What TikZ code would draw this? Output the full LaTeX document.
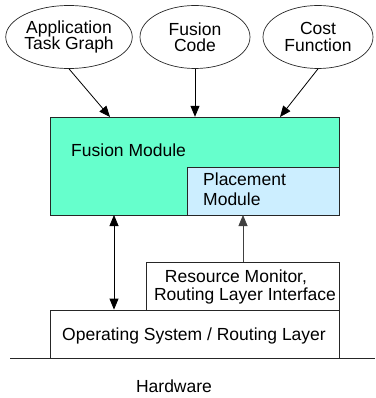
\documentclass[tikz,border=0pt]{standalone}
\usepackage{fontspec}
\setmainfont{Liberation Sans}
\usetikzlibrary{shapes.geometric,arrows.meta}
\definecolor{fusiongreen}{RGB}{102,255,204}
\definecolor{placeblue}{RGB}{204,238,255}
\tikzset{
  every node/.style={font=\fontsize{17.5}{16.5}\selectfont},
  oval/.style={draw=black!85, ellipse, minimum width=110pt, minimum height=63pt, inner sep=0pt, align=center, line width=0.7pt},
  box/.style={draw=black!85, line width=0.8pt},
  arr/.style={-{Triangle[length=11pt,width=9pt]}, line width=0.8pt},
  txt/.style={inner sep=0pt, anchor=base west},
}
\begin{document}
\begin{tikzpicture}[x=1pt,y=-1pt]
\useasboundingbox (0,0) rectangle (375,398);
% ellipses
\node[oval] (e1) at (69,37) {Application\\Task Graph};
\node[oval] (e2) at (195,37) {Fusion\\Code};
\node[oval] (e3) at (318,37) {Cost\\Function};
% fusion module
\draw[box, fill=fusiongreen] (50,117) rectangle (339,215);
\node[draw=none, inner sep=0pt, minimum width=289pt, minimum height=98pt] (fm) at (194.5,166) {};
\node[txt] (fmt) at (71,157) {Fusion Module};
\draw[box, fill=placeblue] (187,167) rectangle (339,215);
\node[draw=none, inner sep=0pt, minimum width=152pt, minimum height=48pt] (pm) at (263,191) {};
\node[txt] (pmt1) at (203,185) {Placement};
\node[txt] (pmt2) at (203,205) {Module};
% resource monitor
\node[box, minimum width=193pt, minimum height=48pt, inner sep=0pt] (rm) at (242.5,286) {};
\node[inner sep=0pt, anchor=base] (rmt1) at (236,282) {Resource Monitor,};
\node[inner sep=0pt, anchor=base] (rmt2) at (245,300) {Routing Layer Interface};
% OS
\node[box, minimum width=289pt, minimum height=48pt, inner sep=0pt] (os) at (194.5,334) {};
\node[inner sep=0pt, anchor=base] (ost) at (194,340) {Operating System / Routing Layer};
% hardware line
\coordinate (hl) at (10,358);
\coordinate (hr) at (375,358);
\draw[line width=0.7pt, black!85] (hl) -- (hr);
\node[inner sep=0pt, anchor=base] (hw) at (174,392) {Hardware};
% arrows
\coordinate (a1) at (110,117);
\coordinate (a3) at (280,117);
\draw[arr] (e1.south) -- (a1);
\draw[arr] (e2.south) -- (e2.south |- fm.north);
\draw[arr] (e3.south) -- (a3);
\coordinate (b1) at (114,215);
\draw[arr, {Triangle[length=11pt,width=9pt]}-{Triangle[length=11pt,width=9pt]}] (b1) -- (b1 |- os.north);
\draw[arr, black!75] (rm.north -| 243,0) -- (243,215);
\end{tikzpicture}
\end{document}
